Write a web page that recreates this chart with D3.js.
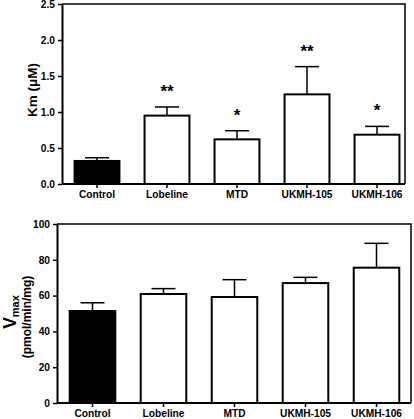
<!DOCTYPE html>
<html><head><meta charset="utf-8">
<script src="https://cdn.jsdelivr.net/npm/d3@7"></script>
<style>body{margin:0;background:#fff}svg{display:block;font-family:"Liberation Sans",Arial,sans-serif;font-weight:bold}</style>
</head><body><svg id="c" width="414" height="419"></svg>
<script>
const categories = ["Control","Lobeline","MTD","UKMH-105","UKMH-106"];
const kmValues = [0.32, 0.95, 0.62, 1.245, 0.685];
const kmErrors = [0.045, 0.12, 0.12, 0.385, 0.115];
const kmStars = ["", "**", "*", "**", "*"];
const kmTicks = [0, 0.5, 1.0, 1.5, 2.0, 2.5];
const vmaxValues = [51.4, 60.9, 59.2, 67.0, 75.6];
const vmaxErrors = [4.6, 3.0, 9.7, 3.2, 13.6];
const vmaxTicks = [0, 20, 40, 60, 80, 100];
const barFills = ["#000","#fff","#fff","#fff","#fff"];

const svg = d3.select("#c");

function panel(o){
  const g = svg.append("g");
  const x = d3.scaleBand().domain(categories).range([o.x0, o.x0 + o.step*5]).paddingInner(o.pad).paddingOuter(o.pad/2);
  const y = d3.scaleLinear().domain(o.domain).range([o.y0, o.y1]);
  g.append("path").attr("d", `M${o.x0},${o.y1}H${o.xr}V${o.y0}`).attr("fill","none").attr("stroke","#000").attr("stroke-width",1.5);
  const bw = x.bandwidth();
  g.selectAll("line.err").data(o.values).join("line")
    .attr("x1",(d,i)=>x(categories[i])+bw/2).attr("x2",(d,i)=>x(categories[i])+bw/2)
    .attr("y1",d=>y(d)).attr("y2",(d,i)=>y(d+o.errors[i])).attr("stroke","#000").attr("stroke-width",1.5);
  g.selectAll("line.cap").data(o.values).join("line")
    .attr("x1",(d,i)=>x(categories[i])+bw/2-12).attr("x2",(d,i)=>x(categories[i])+bw/2+12)
    .attr("y1",(d,i)=>y(d+o.errors[i])).attr("y2",(d,i)=>y(d+o.errors[i])).attr("stroke","#000").attr("stroke-width",1.5);
  g.selectAll("rect").data(o.values).join("rect")
    .attr("x",(d,i)=>x(categories[i])+1).attr("width",bw-2)
    .attr("y",d=>y(d)).attr("height",d=>y(0)-y(d))
    .attr("fill",(d,i)=>barFills[i]).attr("stroke","#000").attr("stroke-width",2);
  if(o.stars){
    g.selectAll("text.star").data(o.values).join("text")
      .attr("x",(d,i)=>x(categories[i])+bw/2).attr("y",(d,i)=>y(d+o.errors[i])-10)
      .attr("text-anchor","middle").attr("font-size",17).text((d,i)=>o.stars[i]);
  }
  const ya = g.append("g").attr("transform",`translate(${o.x0},0)`)
    .call(d3.axisLeft(y).tickValues(o.ticks).tickFormat(o.fmt).tickSize(4).tickSizeOuter(0));
  ya.select(".domain").attr("stroke-width",2);
  ya.selectAll(".tick line").attr("stroke-width",1.5);
  ya.selectAll("text").attr("font-size",10.2).attr("font-weight","bold").attr("font-family","Liberation Sans, Arial");
  const xa = g.append("g").attr("transform",`translate(0,${o.y0})`)
    .call(d3.axisBottom(x).tickSize(4).tickSizeOuter(0));
  xa.select(".domain").attr("d",`M${o.x0},0H${o.xr}`).attr("stroke-width",2);
  xa.selectAll(".tick line").attr("stroke-width",1.5);
  xa.selectAll("text").attr("font-size",10.2).attr("font-weight","bold").attr("font-family","Liberation Sans, Arial").attr("dy","0.72em");
  return g;
}

panel({x0:62, xr:405, step:70, pad:0.33, y0:184, y1:4, domain:[0,2.5], values:kmValues, errors:kmErrors, stars:kmStars, ticks:kmTicks, fmt:d3.format(".1f")});
panel({x0:57, xr:411, step:71, pad:0.33, y0:403, y1:224, domain:[0,100], values:vmaxValues, errors:vmaxErrors, ticks:vmaxTicks, fmt:d3.format("d")});

svg.append("text").attr("transform","translate(37,90) rotate(-90)").attr("text-anchor","middle").attr("font-size",13.5)
  .text("Km (\u03bcM)");
const vl = svg.append("text").attr("transform","translate(16,312) rotate(-90)").attr("text-anchor","middle");
vl.append("tspan").attr("font-size",17.5).text("V");
vl.append("tspan").attr("font-size",11).attr("dy",3).text("max");
svg.append("text").attr("transform","translate(31,317) rotate(-90)").attr("text-anchor","middle").attr("font-size",12)
  .text("(pmol/min/mg)");
</script></body></html>
